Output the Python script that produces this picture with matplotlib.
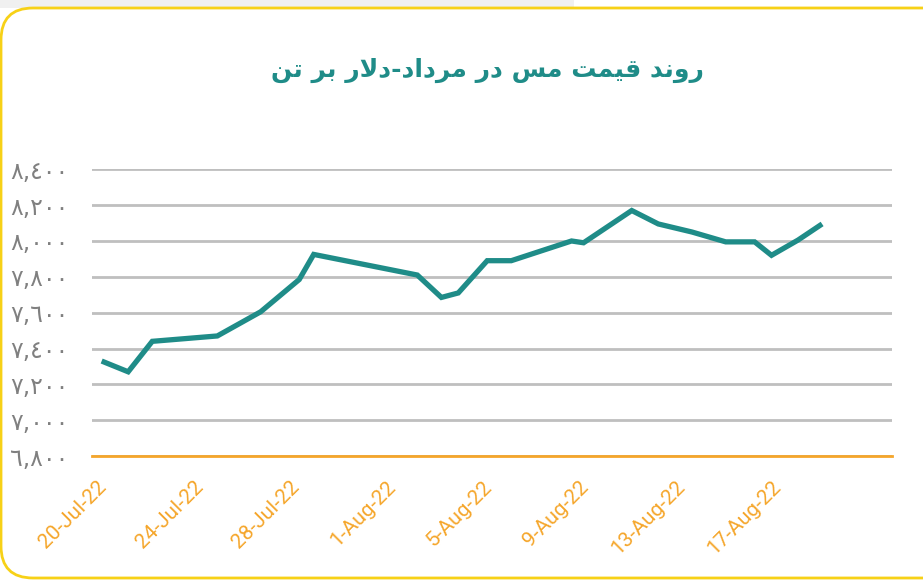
import matplotlib
matplotlib.use('Agg')
import matplotlib.pyplot as plt
from matplotlib.patches import FancyBboxPatch, Rectangle
from matplotlib.transforms import ScaledTranslation

# copper price, USD per tonne
days = [-0.1, 1.0, 2.0, 4.7, 6.5, 8.1, 8.7, 13.0, 14.0, 14.7, 15.9, 16.9,
        19.4, 19.9, 21.9, 23.0, 24.4, 25.8, 27.0, 27.7, 28.8, 29.8]   # days after 20-Jul-22
prices = [7330, 7270, 7440, 7470, 7605, 7785, 7925, 7810, 7685, 7710, 7890, 7890,
          8000, 7990, 8170, 8095, 8050, 7995, 7995, 7920, 8005, 8095]
tick_days = [0, 4, 8, 12, 16, 20, 24, 28]
tick_labels = ['20-Jul-22', '24-Jul-22', '28-Jul-22', '1-Aug-22',
               '5-Aug-22', '9-Aug-22', '13-Aug-22', '17-Aug-22']
y_ticks = [6800, 7000, 7200, 7400, 7600, 7800, 8000, 8200, 8400]
title = 'روند قیمت مس در مرداد-دلار بر تن'

TEAL = '#1f8c88'
ORANGE = '#f5a62b'
GRID = '#bfbfbf'

# very small arabic shaper (matplotlib does no shaping / bidi)
FORMS = {
    'ا': ('\uFE8D', '\uFE8E', None, None),
    'ب': ('\uFE8F', '\uFE90', '\uFE91', '\uFE92'),
    'ت': ('\uFE95', '\uFE96', '\uFE97', '\uFE98'),
    'د': ('\uFEA9', '\uFEAA', None, None),
    'ر': ('\uFEAD', '\uFEAE', None, None),
    'س': ('\uFEB1', '\uFEB2', '\uFEB3', '\uFEB4'),
    'ق': ('\uFED5', '\uFED6', '\uFED7', '\uFED8'),
    'ل': ('\uFEDD', '\uFEDE', '\uFEDF', '\uFEE0'),
    'م': ('\uFEE1', '\uFEE2', '\uFEE3', '\uFEE4'),
    'ن': ('\uFEE5', '\uFEE6', '\uFEE7', '\uFEE8'),
    'و': ('\uFEED', '\uFEEE', None, None),
    'ی': ('\uFEEF', '\uFEF0', '\uFEF3', '\uFEF4'),
}

def shape(text):
    chars = list(text)
    out = []
    i = 0
    while i < len(chars):
        c = chars[i]
        if c not in FORMS:
            out.append(c)
            i += 1
            continue
        prev = chars[i - 1] if i > 0 else ''
        joins_prev = prev in FORMS and FORMS[prev][2] is not None
        # lam-alef ligature
        if c == 'ل' and i + 1 < len(chars) and chars[i + 1] == 'ا':
            out.append('\uFEFC' if joins_prev else '\uFEFB')
            i += 2
            continue
        nxt = chars[i + 1] if i + 1 < len(chars) else ''
        joins_next = FORMS[c][2] is not None and nxt in FORMS
        iso, fin, ini, med = FORMS[c]
        if joins_prev and joins_next:
            out.append(med)
        elif joins_prev:
            out.append(fin)
        elif joins_next:
            out.append(ini)
        else:
            out.append(iso)
        i += 1
    return ''.join(out[::-1])

def arabic_digits(v):
    s = f'{v:,}'
    return s.translate(str.maketrans('0123456789', '٠١٢٣٤٥٦٧٨٩'))

fig = plt.figure(figsize=(9.23, 5.86), dpi=100)
fig.patch.set_facecolor('white')

# grey strip at the top and the rounded yellow frame
fig.patches.append(Rectangle((0, 5.78), 5.74, 0.1, transform=fig.dpi_scale_trans,
                             facecolor='#f0f0f0', edgecolor='none', zorder=-2))
fig.patches.append(FancyBboxPatch((0.01, 0.08), 9.6, 5.70,
                                  boxstyle='round,pad=0,rounding_size=0.32',
                                  transform=fig.dpi_scale_trans,
                                  facecolor='white', edgecolor='#f7d117', linewidth=2,
                                  zorder=-1))

ax = fig.add_axes([0.0997, 0.2218, 0.8667, 0.4893])
ax.set_facecolor('none')

ax.plot(days, prices, color=TEAL, linewidth=3.8, solid_joinstyle='miter',
        solid_capstyle='butt', zorder=3)

ax.set_xlim(-0.5, 32.7)
ax.set_ylim(6800, 8400)
ax.set_yticks(y_ticks)
ax.set_yticklabels([arabic_digits(v) for v in y_ticks])
ax.set_xticks(tick_days)
ax.set_xticklabels(tick_labels, rotation=45, ha='right', rotation_mode='anchor')

ax.yaxis.grid(True, color=GRID, linewidth=2)
ax.set_axisbelow(True)
for s in ['top', 'right', 'left']:
    ax.spines[s].set_visible(False)
ax.spines['bottom'].set_color(ORANGE)
ax.spines['bottom'].set_linewidth(2)
ax.spines['bottom'].set_zorder(2)

ax.tick_params(axis='y', length=0, pad=17, labelsize=17, labelcolor='#808080')
ax.tick_params(axis='x', length=0, pad=15, labelsize=15, labelcolor=ORANGE)
for lab in ax.get_yticklabels():
    lab.set_fontfamily('DejaVu Sans')
shift = ScaledTranslation(-0.07, 0, fig.dpi_scale_trans)
for lab in ax.get_xticklabels():
    lab.set_fontfamily('Roboto')
    lab.set_transform(lab.get_transform() + shift)

fig.text(0.528, 0.879, shape(title), ha='center', va='center', color=TEAL,
         fontsize=18, fontweight='bold', family='DejaVu Sans')

fig.savefig('out.png', dpi=100)
